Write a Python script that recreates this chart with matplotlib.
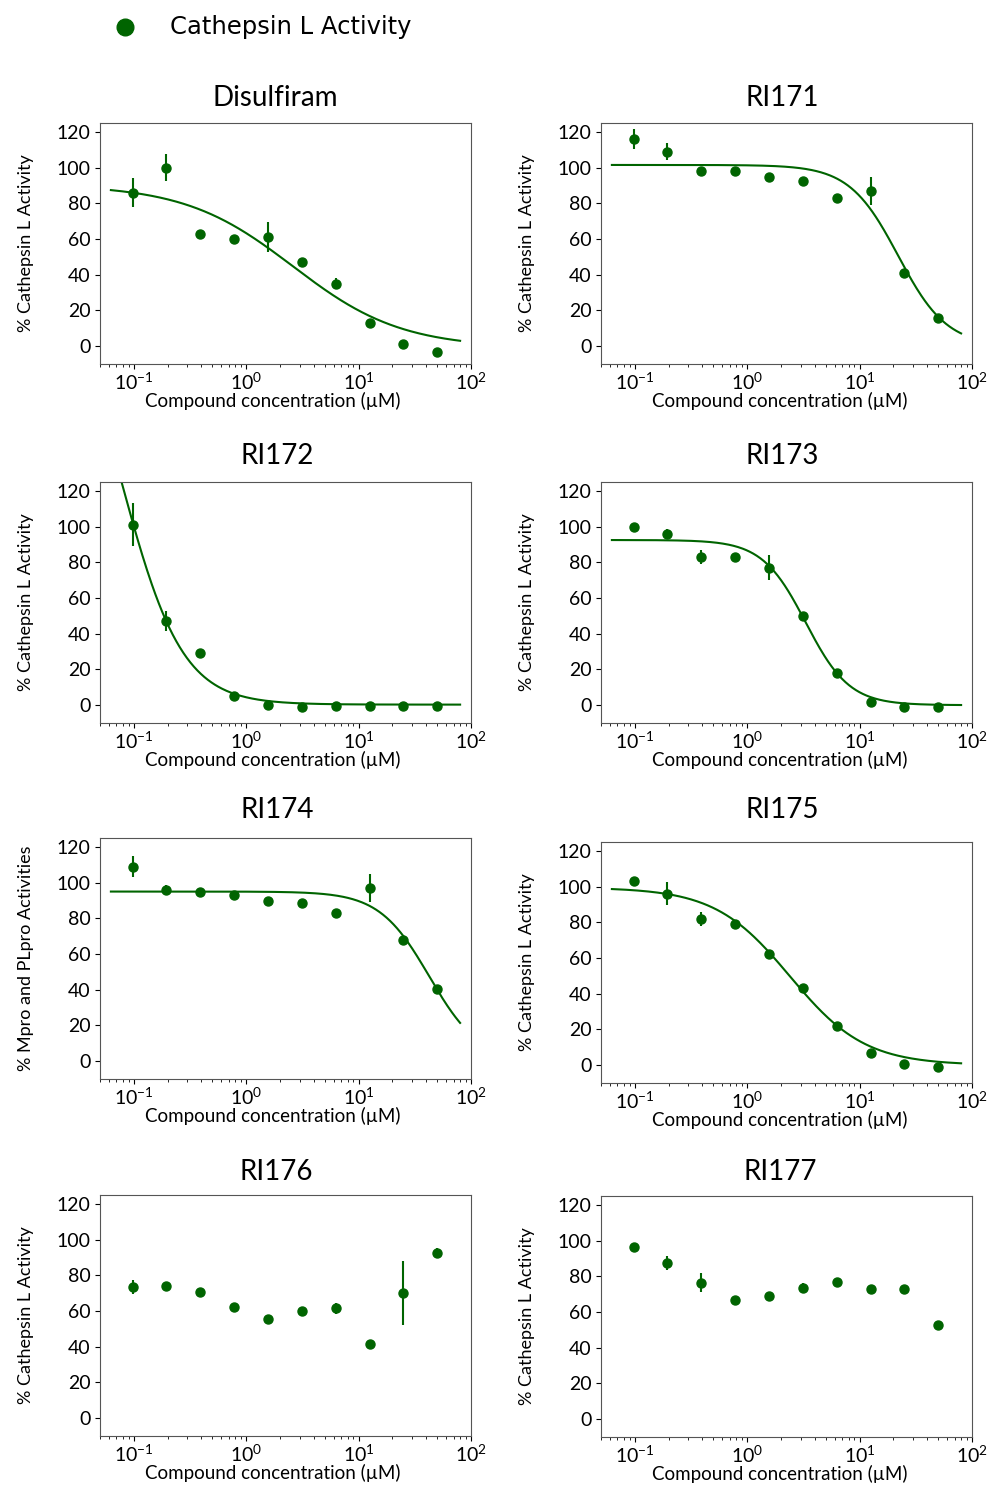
import matplotlib
matplotlib.use("Agg")
import matplotlib.pyplot as plt
import numpy as np

# concentrations (uM)
conc = [0.0977, 0.195, 0.39, 0.78, 1.5625, 3.125, 6.25, 12.5, 25, 50]

names = ["Disulfiram", "RI171", "RI172", "RI173", "RI174", "RI175", "RI176", "RI177"]

disulfiram = [86, 100, 63, 60, 61, 47, 35, 13, 1, -3]
disulfiram_err = [8, 7.5, 1, 1, 8.5, 1, 3, 1, 1, 1]
ri171 = [116, 109, 98, 98, 95, 92.5, 83, 87, 41, 16]
ri171_err = [5.5, 5, 1, 1, 1, 1, 1, 8, 1, 1]
ri172 = [101, 47, 29, 5, 0, -1, -0.5, -0.5, -0.5, -0.5]
ri172_err = [12, 5.5, 1, 1, 1, 1, 1, 1, 1, 1]
ri173 = [100, 96, 83, 83, 77, 50, 18, 1.5, -1, -1]
ri173_err = [1, 2.5, 4, 1, 7, 1, 1, 1, 1, 1]
ri174 = [109, 96, 94.5, 93, 89.5, 88.5, 83, 97, 68, 40.5]
ri174_err = [6, 2.5, 1, 1, 1, 1, 1, 8, 2.5, 1]
ri175 = [103, 96, 82, 79, 62, 43, 22, 7, 0.5, -1]
ri175_err = [2.5, 6.5, 4, 1, 1, 2, 1, 1, 1, 1]
ri176 = [73.5, 74, 70.5, 62, 55.5, 60, 61.5, 41.5, 70, 92.5]
ri176_err = [4, 1, 1, 1, 1, 2.5, 3, 1, 18, 3]
ri177 = [96.5, 87.5, 76.5, 67, 69, 73.5, 77, 73, 73, 52.5]
ri177_err = [2, 4, 5.5, 1, 1, 3, 1, 1, 1, 1]

values = [disulfiram, ri171, ri172, ri173, ri174, ri175, ri176, ri177]
errors = [disulfiram_err, ri171_err, ri172_err, ri173_err, ri174_err, ri175_err, ri176_err, ri177_err]

# Hill fit parameters (top, bottom, IC50, hill); None = no fit shown
fits = [
    (90.5, -1.0, 2.6, 0.9),
    (101.5, 0.0, 22.0, 2.0),
    (250.0, 0.3, 0.0776, 1.6),
    (92.5, 0.0, 3.32, 2.24),
    (95.0, 0.0, 42.5, 1.95),
    (99.5, 0.0, 2.4, 1.3),
    None,
    None,
]

ylabels = ["% Cathepsin L Activity"] * 8
ylabels[4] = "% Mpro and PLpro Activities"

green = "#006400"
W, H = 988, 1488

plt.rcParams['font.family'] = ['Lato', 'DejaVu Sans']
plt.rcParams['mathtext.fontset'] = 'custom'
plt.rcParams['mathtext.rm'] = 'Lato'
plt.rcParams['mathtext.it'] = 'Lato:italic'

fig = plt.figure(figsize=(9.88, 14.88), dpi=100)

col_x = [(100, 471), (601, 972)]
row_top = [[123, 123], [482, 482], [838, 842], [1195, 1196]]
ax_h = 241
title_pos = [(275, 98), (782, 98), (277, 456), (782, 456),
             (277, 810), (782, 810), (276, 1172), (780, 1172)]
xlabel_x = [0.466, 0.482]

xfit = np.logspace(np.log10(0.0625), np.log10(80), 300)

for i in range(8):
    r, c = divmod(i, 2)
    x0, x1 = col_x[c]
    top = row_top[r][c]
    ax = fig.add_axes([x0 / W, 1 - (top + ax_h) / H, (x1 - x0) / W, ax_h / H])
    ax.errorbar(conc, values[i], yerr=errors[i], fmt='o', color=green,
                ms=6.5, elinewidth=1.5, capsize=0)
    if fits[i] is not None:
        t, b, ic, h = fits[i]
        ax.plot(xfit, b + (t - b) / (1 + (xfit / ic) ** h), color=green, lw=1.5)
    ax.set_xscale('log')
    ax.set_xlim(0.05, 100)
    ax.set_ylim(-10, 125)
    ax.set_yticks([0, 20, 40, 60, 80, 100, 120])
    ax.tick_params(labelsize=14)
    ax.tick_params(axis='x', pad=2)
    for s in ax.spines.values():
        s.set_color('#555555')
    ax.set_xlabel("Compound concentration (\u00b5M)", fontsize=13.5, labelpad=-1)
    ax.xaxis.label.set_x(xlabel_x[c])
    ax.set_ylabel(ylabels[i], fontsize=13, labelpad=16)
    tx, ty = title_pos[i]
    fig.text(tx / W, 1 - ty / H, names[i], fontsize=20, ha='center', va='center')

# legend at the top
lax = fig.add_axes([0, 1 - 60 / H, 1, 60 / H])
lax.set_axis_off()
lax.set_xlim(0, W)
lax.set_ylim(60, 0)
lax.plot([125], [27], 'o', color=green, ms=12)
lax.text(170, 27, "Cathepsin L Activity", fontsize=17.5, va='center',
         family='DejaVu Sans')

fig.savefig("out.png", dpi=100)
